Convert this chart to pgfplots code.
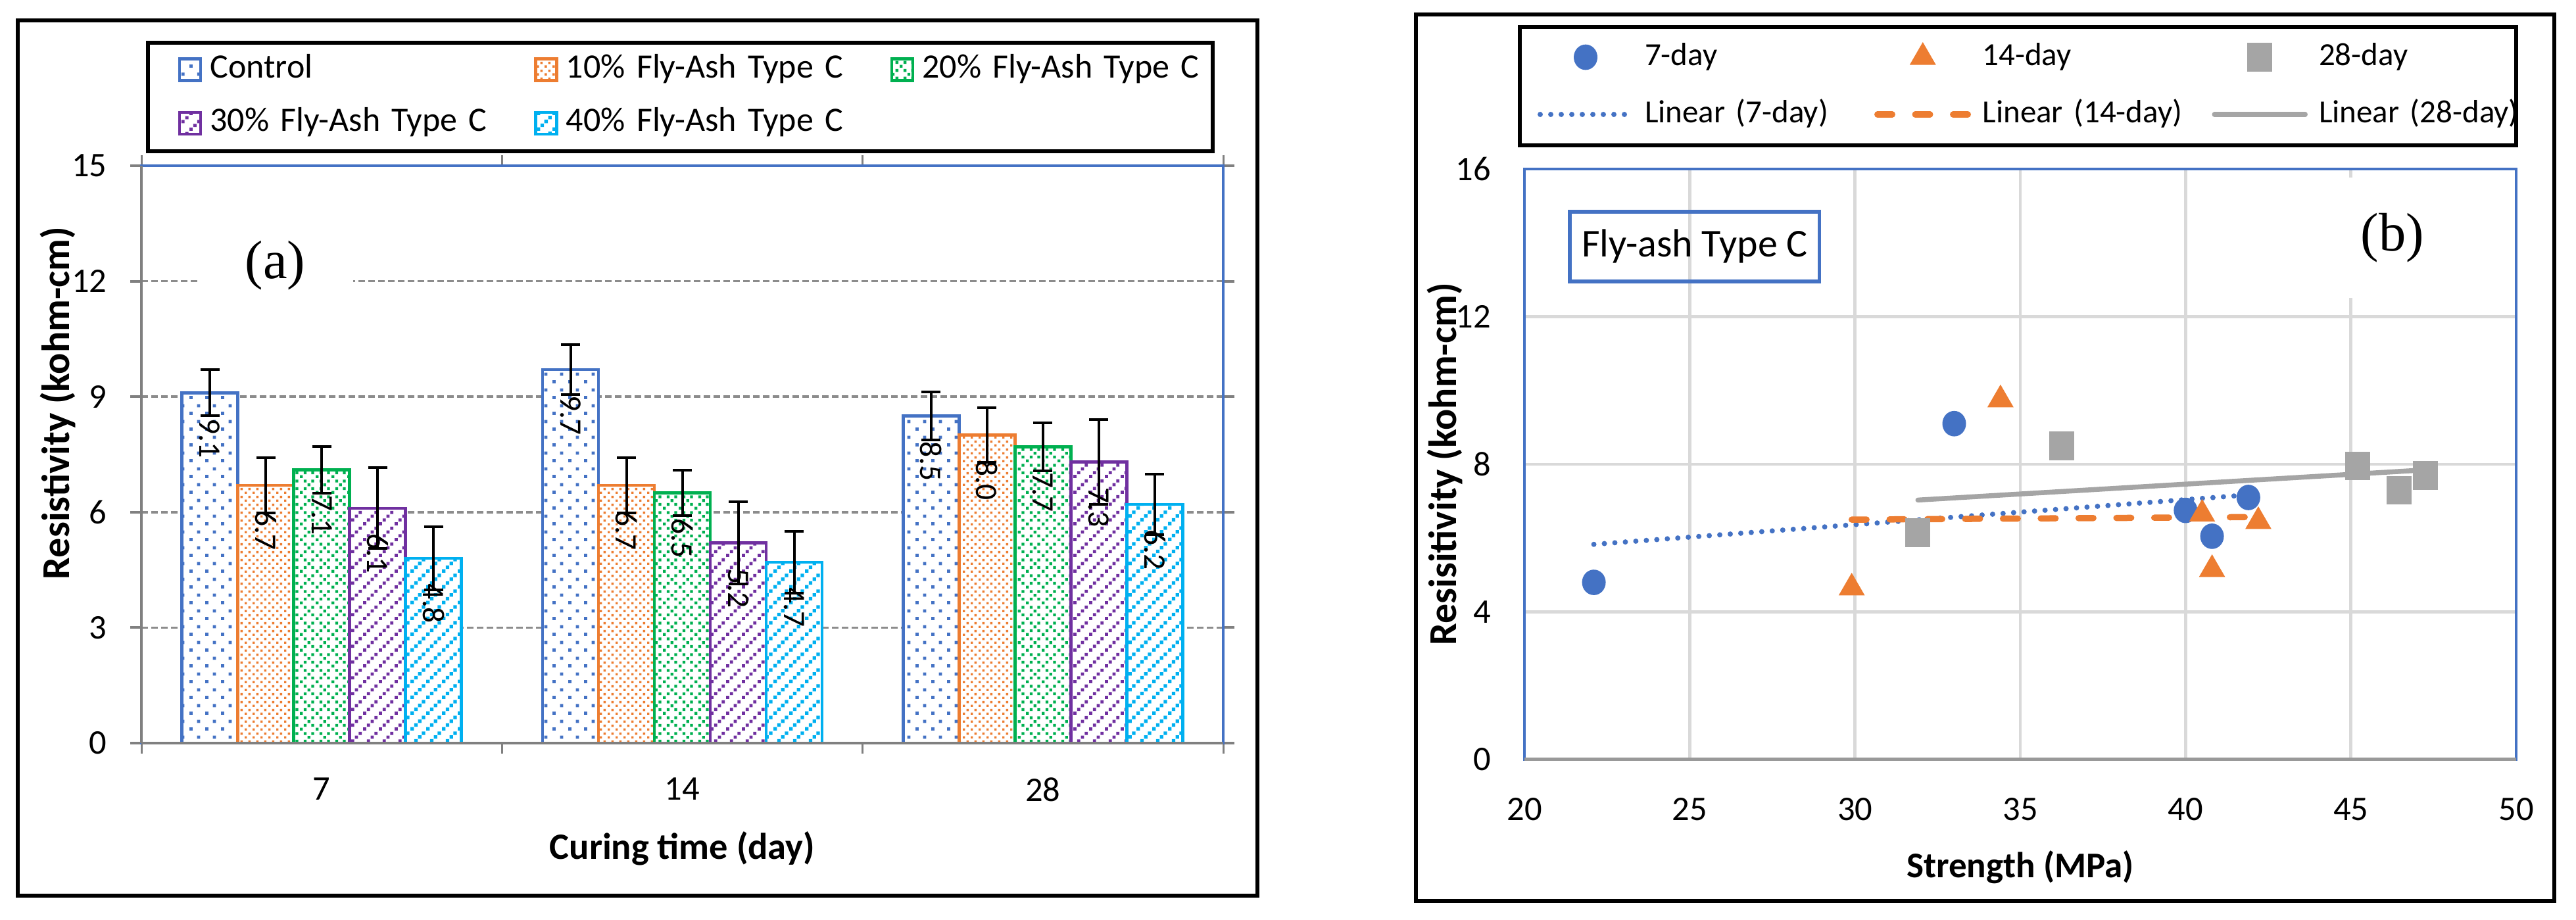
\documentclass[border=0pt]{standalone}
\usepackage{pgfplots}
\pgfplotsset{compat=1.18}
\usepackage{pgfplotstable}
\usepackage{fontspec}
\setmainfont{Carlito}
\newfontfamily\labfont{Liberation Serif}
\usetikzlibrary{patterns.meta}
\pgfplotsset{/pgf/number format/assume math mode=true}

\definecolor{cA}{HTML}{4472C4}
\definecolor{cB}{HTML}{ED7D31}
\definecolor{cC}{HTML}{00B050}
\definecolor{cD}{HTML}{7030A0}
\definecolor{cE}{HTML}{00B0F0}
\definecolor{cG}{HTML}{A5A5A5}
\definecolor{gridL}{HTML}{D9D9D9}
\definecolor{gridD}{HTML}{8C8C8C}

\tikzdeclarepattern{name=pA, type=uncolored,
  tile size={(4.8pt,4.8pt)}, bounding box={(0pt,0pt) and (4.8pt,4.8pt)},
  code={\fill (0pt,0pt) rectangle (1pt,1pt); \fill (2.4pt,2.4pt) rectangle (3.4pt,3.4pt);}}
\tikzdeclarepattern{name=pB, type=uncolored,
  tile size={(2.4pt,2.4pt)}, bounding box={(0pt,0pt) and (2.4pt,2.4pt)},
  code={\fill (0pt,0pt) rectangle (0.75pt,0.75pt); \fill (1.2pt,1.2pt) rectangle (1.95pt,1.95pt);}}
\tikzdeclarepattern{name=pC, type=uncolored,
  tile size={(4.8pt,4.8pt)}, bounding box={(0pt,0pt) and (4.8pt,4.8pt)},
  code={\fill (0pt,0pt) rectangle (0.9pt,0.9pt); \fill (1.2pt,1.2pt) rectangle (2.1pt,2.1pt);
        \fill (2.4pt,2.4pt) rectangle (3.3pt,3.3pt); \fill (3.6pt,3.6pt) rectangle (4.5pt,4.5pt);
        \fill (3.6pt,1.2pt) rectangle (4.5pt,2.1pt); \fill (1.2pt,3.6pt) rectangle (2.1pt,4.5pt);}}
\tikzdeclarepattern{name=pD, type=uncolored,
  tile size={(4.8pt,4.8pt)}, bounding box={(0pt,0pt) and (4.8pt,4.8pt)},
  code={\fill (0pt,0pt) rectangle (1pt,1pt); \fill (1.2pt,1.2pt) rectangle (2.2pt,2.2pt);
        \fill (2.4pt,2.4pt) rectangle (3.4pt,3.4pt); \fill (3.6pt,3.6pt) rectangle (4.6pt,4.6pt);}}
\tikzdeclarepattern{name=pE, type=uncolored,
  tile size={(4.8pt,4.8pt)}, bounding box={(0pt,0pt) and (4.8pt,4.8pt)},
  code={\fill (0pt,0pt) rectangle (1.1pt,1.1pt); \fill (1.2pt,1.2pt) rectangle (2.3pt,2.3pt);
        \fill (2.4pt,2.4pt) rectangle (3.5pt,3.5pt); \fill (3.6pt,3.6pt) rectangle (4.7pt,4.7pt);}}

% bar data: x = category index, y = resistivity, e = error
\pgfplotstableread{
x y e
0 9.1 0.60
1 9.7 0.65
2 8.5 0.62
}\tA
\pgfplotstableread{
x y e
0 6.7 0.72
1 6.7 0.72
2 8.0 0.71
}\tB
\pgfplotstableread{
x y e
0 7.1 0.60
1 6.5 0.59
2 7.7 0.62
}\tC
\pgfplotstableread{
x y e
0 6.1 1.05
1 5.2 1.07
2 7.3 1.10
}\tD
\pgfplotstableread{
x y e
0 4.8 0.82
1 4.7 0.80
2 6.2 0.78
}\tE

% scatter data
\pgfplotstableread{
x y
22.1 4.80
33.0 9.10
40.0 6.75
40.8 6.05
41.9 7.10
}\sA
\pgfplotstableread{
x y
29.9 4.65
34.4 9.75
40.5 6.65
40.8 5.15
42.2 6.45
}\sB
\pgfplotstableread{
x y
31.9 6.15
36.25 8.50
45.2 7.95
46.45 7.30
47.25 7.70
}\sC

\pgfplotsset{
  barsty/.style 2 args={draw=#1, line width=0.9pt, fill=white,
    postaction={pattern=#2, pattern color=#1},
    error bars/y dir=both, error bars/y explicit,
    error bars/error bar style={black, line width=0.8pt},
    error bars/error mark options={black, line width=0.8pt, mark size=2.9pt, rotate=90}},
  barleg/.style={legend image code/.code={\draw[##1] (0pt,-3.3pt) rectangle (6.4pt,3.3pt);}},
  markleg/.style={legend image code/.code={\path (0pt,0pt) (27.6pt,0pt); \draw[##1] plot coordinates {(13.8pt,0pt)};}},
  lineleg/.style={legend image code/.code={\draw[##1] (0pt,0pt) -- (27.6pt,0pt);}},
}

\begin{document}
\begin{tikzpicture}
\useasboundingbox (0pt,0pt) rectangle (783.4pt,279.8pt);

% ---------------- left panel ----------------
\draw[black, line width=1.3pt] (5.4pt,7.4pt) rectangle (382.4pt,273.6pt);
\draw[black, line width=1.1pt] (45pt,233.8pt) rectangle (368.8pt,266.8pt);

\begin{axis}[
  at={(43pt,53.8pt)}, anchor=south west, scale only axis,
  width=329pt, height=175.6pt,
  ybar=0pt, bar width=17pt,
  xmin=-0.5, xmax=2.5, ymin=0, ymax=15,
  xtick={0,1,2}, xticklabels={7,14,28},
  minor xtick={-0.5,0.5,1.5,2.5},
  ytick={0,3,...,15},
  tick align=outside,
  major tick length=3.4pt, minor tick length=3.2pt,
  major x tick style={draw=none},
  minor x tick style={gray, line width=0.6pt},
  major y tick style={gray, line width=0.8pt},
  ymajorgrids,
  major y grid style={gridD, line width=0.7pt, dash pattern=on 2pt off 1pt},
  axis line style={cA, line width=0.9pt},
  ticklabel style={font=\fontsize{10.5}{12}\selectfont},
  yticklabel style={xshift=-3.6pt},
  xticklabel style={yshift=-3.6pt},
  xlabel={Curing time (day)},
  ylabel={Resistivity (kohm-cm)},
  every axis x label/.style={at={(axis description cs:0.5,-0.1822)}, anchor=center,
    font=\bfseries\fontsize{11.3}{13}\selectfont},
  every axis y label/.style={at={(axis description cs:-0.0772,0.5888)}, anchor=center, rotate=90,
    font=\bfseries\fontsize{12}{14}\selectfont},
  nodes near coords={\pgfmathprintnumber[fixed,fixed zerofill,precision=1]{\pgfplotspointmeta}},
  every node near coord/.append style={font=\fontsize{9.5}{11}\selectfont, black,
    anchor=center, yshift=-13.8pt, rotate=-90},
  legend columns=3,
  legend cell align=left,
  legend style={at={(axis description cs:0.034,1.1948)}, anchor=north west,
    draw=none, fill=none, inner sep=0pt, outer sep=0pt, row sep=6.3pt,
    nodes={inner xsep=0pt, inner ysep=0pt, text width=98.6pt, align=left,
      text height=7.5pt, text depth=2.5pt, font=\fontsize{10.4}{12}\selectfont},
    /tikz/every odd column/.append style={column sep=2.4pt}},
  after end axis/.code={
    \draw[gray, line width=0.8pt] (rel axis cs:0,0) -- (rel axis cs:0,1);
    \draw[gray, line width=0.8pt] (rel axis cs:0,0) -- (rel axis cs:1,0);
  },
]
\addplot[barsty={cA}{pA}, barleg] table[x=x, y=y, y error=e] {\tA};
\addlegendentry{Control}
\addplot[barsty={cB}{pB}, barleg] table[x=x, y=y, y error=e] {\tB};
\addlegendentry{10\% Fly-Ash Type C}
\addplot[barsty={cC}{pC}, barleg] table[x=x, y=y, y error=e] {\tC};
\addlegendentry{20\% Fly-Ash Type C}
\addplot[barsty={cD}{pD}, barleg] table[x=x, y=y, y error=e] {\tD};
\addlegendentry{30\% Fly-Ash Type C}
\addplot[barsty={cE}{pE}, barleg] table[x=x, y=y, y error=e] {\tE};
\addlegendentry{40\% Fly-Ash Type C}
\end{axis}

\node[fill=white, inner sep=0pt, minimum width=47.4pt, minimum height=20pt,
  font=\labfont\fontsize{16.5}{18}\selectfont] at (83.7pt,199pt) {(a)};

% ---------------- right panel ----------------
\draw[black, line width=1.3pt] (430.6pt,5.8pt) rectangle (776.8pt,275.4pt);
\draw[black, line width=1.1pt] (462.2pt,235.6pt) rectangle (765.2pt,271.6pt);

\begin{axis}[
  at={(463.6pt,48.8pt)}, anchor=south west, scale only axis,
  width=301.6pt, height=179.6pt,
  xmin=20, xmax=50, ymin=0, ymax=16,
  xtick={20,25,...,50}, ytick={0,4,...,16},
  grid=major,
  major grid style={gridL, line width=0.9pt},
  major tick length=0pt,
  axis line style={cA, line width=0.9pt},
  ticklabel style={font=\fontsize{10.5}{12}\selectfont},
  yticklabel style={xshift=-6.7pt},
  xticklabel style={yshift=-8.2pt},
  xlabel={Strength (MPa)},
  ylabel={Resisitivity (kohm-cm)},
  every axis x label/.style={at={(axis description cs:0.5,-0.1826)}, anchor=center,
    font=\bfseries\fontsize{11}{13}\selectfont},
  every axis y label/.style={at={(axis description cs:-0.0802,0.5)}, anchor=center, rotate=90,
    font=\bfseries\fontsize{12}{14}\selectfont},
  legend columns=3,
  legend cell align=left,
  legend style={at={(axis description cs:0.01326,1.2171)}, anchor=north west,
    draw=none, fill=none, inner sep=0pt, outer sep=0pt, row sep=7.4pt,
    nodes={inner xsep=0pt, inner ysep=0pt, text width=69.8pt, align=left,
      text height=7.5pt, text depth=2.5pt, font=\fontsize{9.8}{12}\selectfont},
    /tikz/every odd column/.append style={column sep=3.4pt}},
  after end axis/.code={
    \draw[gray!80, line width=1pt] (rel axis cs:0,0) -- (rel axis cs:1,0);
  },
]
\addplot[only marks, mark=*, color=cA, mark size=3.4pt, mark options={yscale=1.08}, markleg]
  table[x=x, y=y] {\sA};
\addlegendentry{7-day}
\addplot[only marks, mark=triangle*, color=cB, mark size=4.2pt, markleg]
  table[x=x, y=y] {\sB};
\addlegendentry{14-day}
\addplot[only marks, mark=square*, color=cG, mark size=3.6pt, mark options={yscale=1.15}, markleg]
  table[x=x, y=y] {\sC};
\addlegendentry{28-day}
\addplot[cA, line width=1.6pt, line cap=round, dash pattern=on 0pt off 3.2pt, lineleg]
  coordinates {(22.1,5.83) (41.9,7.17)};
\addlegendentry{Linear (7-day)}
\addplot[cB, line width=1.9pt, line cap=round, dash pattern=on 4.5pt off 7pt, lineleg]
  coordinates {(29.9,6.50) (42.2,6.57)};
\addlegendentry{Linear (14-day)}
\addplot[cG, line width=1.5pt, line cap=round, lineleg]
  coordinates {(31.9,7.03) (47.3,7.85)};
\addlegendentry{Linear (28-day)}
\end{axis}

\node[draw=cA, line width=1.1pt, inner sep=0pt, minimum width=75.9pt, minimum height=21.2pt,
  font=\fontsize{12}{14}\selectfont] at (515.35pt,204.8pt) {Fly-ash Type C};
\node[fill=white, inner sep=0pt, minimum width=34pt, minimum height=36.6pt,
  font=\labfont\fontsize{16.5}{18}\selectfont] at (727.6pt,207.5pt) {(b)};
\end{tikzpicture}
\end{document}
